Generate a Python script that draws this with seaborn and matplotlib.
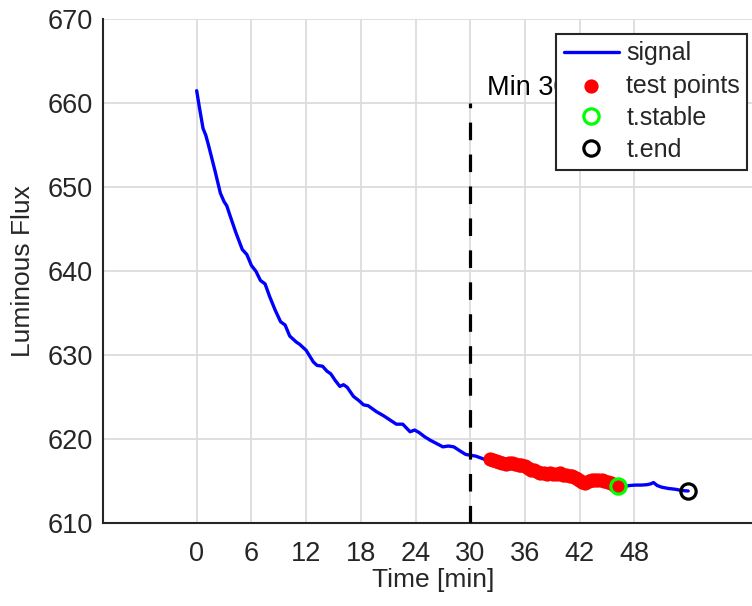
import matplotlib
matplotlib.use("Agg")
import matplotlib.pyplot as plt
import seaborn as sns
import numpy as np

# Luminous flux signal over time
time_min = [0.0, 0.3, 0.7, 1.0, 1.3, 2.0, 2.6, 3.0, 3.3, 3.7, 4.3, 5.0, 5.5, 6.0,
            6.5, 7.0, 7.5, 8.0, 8.6, 9.2, 9.7, 10.2, 10.9, 11.3, 12.0, 12.4, 12.8,
            13.2, 13.8, 14.3, 14.7, 15.2, 15.7, 16.1, 16.5, 17.2, 17.8, 18.3, 18.8,
            19.7, 20.5, 21.2, 21.9, 22.6, 23.4, 23.9, 24.4, 25.0, 25.6, 26.3, 27.0,
            27.6, 28.2, 28.9, 29.5, 30.0, 30.6, 31.1, 31.6, 32.2, 33.2, 34.2, 35.3,
            36.3, 37.4, 38.4, 39.5, 40.5, 41.6, 42.6, 43.3, 44.4, 45.4, 46.2, 46.9,
            47.5, 48.1, 48.8, 49.4, 49.8, 50.1, 50.5, 51.0, 51.7, 52.5, 53.2, 53.9]
flux = [661.5, 659.5, 657.0, 656.2, 655.0, 652.0, 649.3, 648.3, 647.8, 646.5, 644.6,
        642.6, 642.0, 640.7, 640.0, 638.9, 638.5, 637.0, 635.4, 634.0, 633.6, 632.3,
        631.6, 631.3, 630.6, 629.9, 629.2, 628.8, 628.7, 628.1, 627.8, 627.0, 626.3,
        626.5, 626.2, 625.1, 624.6, 624.1, 624.0, 623.3, 622.8, 622.3, 621.8, 621.8,
        620.9, 621.1, 620.8, 620.3, 619.9, 619.5, 619.1, 619.2, 619.1, 618.6, 618.2,
        618.1, 618.0, 617.8, 617.6, 617.5, 617.3, 617.1, 617.0, 616.6, 616.1, 615.9,
        615.85, 615.75, 615.4, 614.8, 615.15, 615.1, 614.8, 614.4, 614.4, 614.5,
        614.55, 614.55, 614.6, 614.7, 614.85, 614.5, 614.3, 614.15, 614.05, 613.9,
        613.85]

# Samples used for the stability test
test_time = [32.2, 32.5, 32.8, 33.2, 33.5, 33.9, 34.2, 34.6, 34.9, 35.3, 35.6, 36.0,
             36.3, 36.7, 37.0, 37.4, 37.7, 38.1, 38.4, 38.8, 39.1, 39.5, 39.8, 40.2,
             40.5, 40.9, 41.2, 41.6, 41.9, 42.3, 42.6, 43.0, 43.3, 43.7, 44.0, 44.4,
             44.7, 45.1, 45.4, 45.8, 46.2]
test_flux = [617.6, 617.5, 617.4, 617.35, 617.2, 617.1, 617.15, 617.2, 617.1, 617.0,
             616.95, 616.8, 616.6, 616.4, 616.3, 616.1, 616.0, 615.95, 615.9, 616.0,
             615.9, 615.85, 615.95, 615.8, 615.75, 615.65, 615.6, 615.4, 615.2, 614.95,
             614.8, 615.0, 615.15, 615.1, 615.2, 615.1, 615.0, 614.9, 614.8, 614.6,
             614.4]

t_stable = [46.2]
flux_stable = [614.4]
t_end = [53.9]
flux_end = [613.85]

marker_min = 30
x_ticks = [0, 6, 12, 18, 24, 30, 36, 42, 48]
y_ticks = [610, 620, 630, 640, 650, 660, 670]

sns.set_theme(style="white")
plt.rcParams["font.family"] = ["Liberation Sans", "DejaVu Sans"]

dark = "#262626"
fig = plt.figure(figsize=(7.52, 6.06), dpi=100)
ax = fig.add_axes([103.3 / 752, 1 - 523.3 / 606, 1 - 103.3 / 752, 504 / 606])

sns.lineplot(x=time_min, y=flux, ax=ax, color="#0000ff", linewidth=2.4,
             label="signal", zorder=3, sort=False)
sns.scatterplot(x=test_time, y=test_flux, ax=ax, color="#ff0000", marker="o",
                s=105, linewidth=0, label="test points", zorder=4)
ax.plot(t_stable, flux_stable, linestyle="none", marker="o", markersize=11,
        markerfacecolor="none", markeredgecolor="#00ff00", markeredgewidth=2.3,
        label="t.stable", zorder=5)
ax.plot(t_end, flux_end, linestyle="none", marker="o", markersize=11,
        markerfacecolor="none", markeredgecolor="black", markeredgewidth=2.3,
        label="t.end", zorder=5)

ax.plot([marker_min, marker_min], [610, 660], color="black", linewidth=2.3,
        dashes=(5.5, 4.5), zorder=6)
ax.text(marker_min + 1.8, 660.3, "Min 30", fontsize=19.5, color="black",
        ha="left", va="bottom", zorder=6)

ax.set_xlim(-10.24, 60.9)
ax.set_ylim(610, 670)
ax.set_xticks(x_ticks)
ax.set_yticks(y_ticks)
ax.grid(True, color="#dcdcdc", linewidth=1.3)
ax.set_axisbelow(True)

for side in ("top", "right"):
    ax.spines[side].set_visible(False)
for side in ("left", "bottom"):
    ax.spines[side].set_color(dark)
    ax.spines[side].set_linewidth(1.5)

ax.tick_params(axis="both", direction="in", length=8.5, width=1.5, color=dark,
               labelcolor=dark, labelsize=19.5)
ax.tick_params(axis="x", pad=13)
ax.tick_params(axis="y", pad=7.5)

ax.set_xlabel("Time [min]", fontsize=19, color=dark)
ax.set_ylabel("Luminous Flux", fontsize=19, color=dark)
ax.xaxis.set_label_coords(0.508, -0.088)
ax.yaxis.set_label_coords(-0.105, 0.5)

leg = ax.legend(loc="upper right", bbox_to_anchor=(0.993, 0.971), borderaxespad=0,
                fontsize=18, frameon=True, fancybox=False, framealpha=1,
                handlelength=2.2, handletextpad=0.3, labelspacing=0.33,
                borderpad=0.3, markerscale=1.0)
leg.get_frame().set_edgecolor(dark)
leg.get_frame().set_linewidth(1.5)
leg.set_zorder(10)

fig.savefig("out.png", dpi=100)
